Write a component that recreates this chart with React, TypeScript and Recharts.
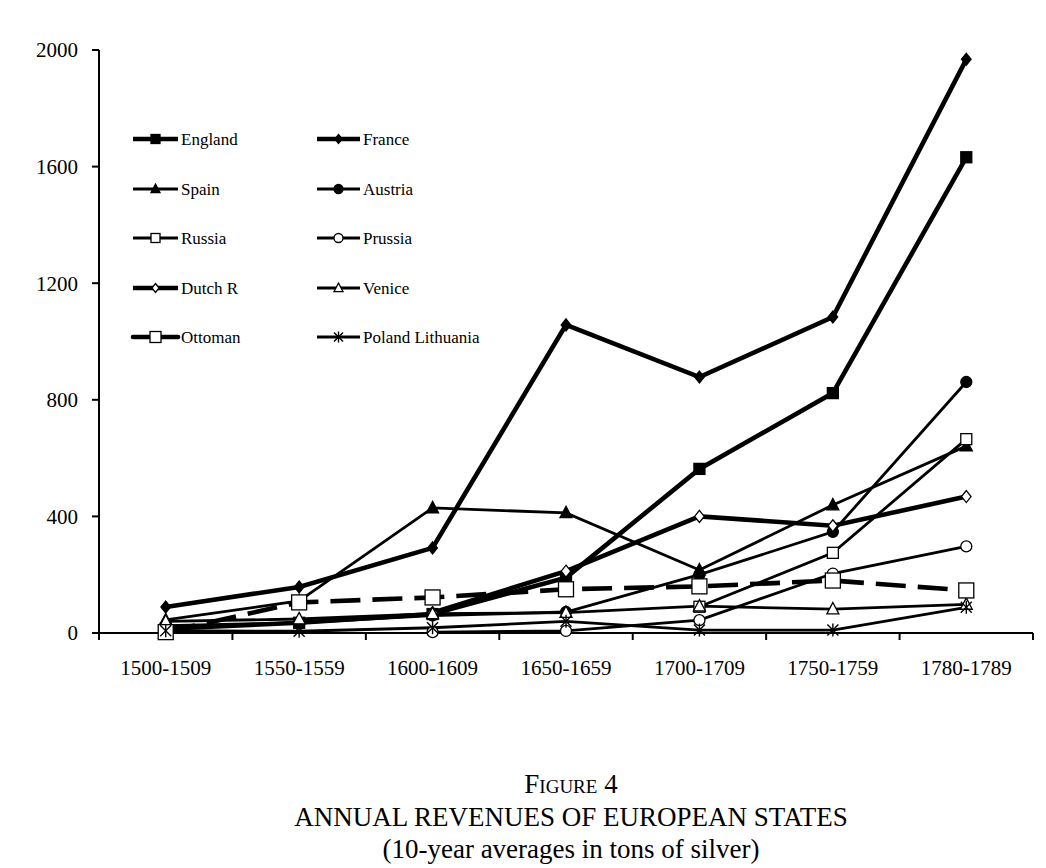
import { Legend, Line, LineChart, XAxis, YAxis } from 'recharts';

type Shape = 'square' | 'diamond' | 'triangle' | 'circle' | 'star';

const CATEGORIES = ['1500-1509', '1550-1559', '1600-1609', '1650-1659', '1700-1709', '1750-1759', '1780-1789'];
const Y_TICKS = [0, 400, 800, 1200, 1600, 2000];

const ENGLAND = [15, 35, 65, 190, 563, 823, 1632];
const FRANCE = [89, 158, 292, 1057, 878, 1084, 1968];
const SPAIN = [45, 110, 429, 412, 216, 439, 641];
const AUSTRIA = [25, 35, 60, 72, 200, 347, 861];
const RUSSIA = [null, null, null, null, 90, 275, 665];
const PRUSSIA = [null, null, 3, 7, 44, 204, 297];
const DUTCH_R = [null, null, 70, 212, 400, 368, 468];
const VENICE = [40, 48, 66, 70, 92, 82, 98];
const OTTOMAN = [3, 105, 122, 150, 160, 180, 146];
const POLAND = [8, 6, 18, 40, 10, 10, 88];

const FONT = '"Liberation Serif", "Times New Roman", serif';
const WIDTH = 1046;
const HEIGHT = 720;
const PLOT_LEFT = 99;
const PLOT_RIGHT = 1033;
const BAND = (PLOT_RIGHT - PLOT_LEFT) / CATEGORIES.length;
const THICK = 4.6;
const THIN = 2.8;

type Series = {
  key: string;
  name: string;
  values: (number | null)[];
  shape: Shape;
  filled: boolean;
  width: number;
  size: number;
  dash?: string;
};

const SERIES: Series[] = [
  { key: 'england', name: 'England', values: ENGLAND, shape: 'square', filled: true, width: THICK, size: 11 },
  { key: 'france', name: 'France', values: FRANCE, shape: 'diamond', filled: true, width: THICK, size: 12 },
  { key: 'spain', name: 'Spain', values: SPAIN, shape: 'triangle', filled: true, width: THIN, size: 12 },
  { key: 'austria', name: 'Austria', values: AUSTRIA, shape: 'circle', filled: true, width: THIN, size: 11 },
  { key: 'russia', name: 'Russia', values: RUSSIA, shape: 'square', filled: false, width: THIN, size: 11 },
  { key: 'prussia', name: 'Prussia', values: PRUSSIA, shape: 'circle', filled: false, width: THIN, size: 11 },
  { key: 'dutch', name: 'Dutch R', values: DUTCH_R, shape: 'diamond', filled: false, width: THICK, size: 12 },
  { key: 'venice', name: 'Venice', values: VENICE, shape: 'triangle', filled: false, width: THIN, size: 12 },
  { key: 'ottoman', name: 'Ottoman', values: OTTOMAN, shape: 'square', filled: false, width: THICK, size: 15, dash: '30 12' },
  { key: 'poland', name: 'Poland Lithuania', values: POLAND, shape: 'star', filled: false, width: THIN, size: 11 },
];

const data = CATEGORIES.map((label, i) => {
  const row: Record<string, string | number | null> = { label };
  SERIES.forEach((s) => {
    row[s.key] = s.values[i];
  });
  return row;
});

function Marker({ shape, filled, size, cx, cy }: { shape: Shape; filled: boolean; size: number; cx: number; cy: number }) {
  const h = size / 2;
  const fill = filled ? '#000' : '#fff';
  const common = { fill, stroke: '#000', strokeWidth: 1.3 };
  if (shape === 'square') return <rect x={cx - h} y={cy - h} width={size} height={size} {...common} />;
  if (shape === 'diamond')
    return <polygon points={`${cx},${cy - h} ${cx + h * 0.8},${cy} ${cx},${cy + h} ${cx - h * 0.8},${cy}`} {...common} />;
  if (shape === 'triangle')
    return <polygon points={`${cx},${cy - h * 1.1} ${cx + h},${cy + h * 0.8} ${cx - h},${cy + h * 0.8}`} {...common} />;
  if (shape === 'circle') return <circle cx={cx} cy={cy} r={h} {...common} />;
  return (
    <g stroke="#000" strokeWidth={1.4}>
      <line x1={cx - h} y1={cy - h} x2={cx + h} y2={cy + h} />
      <line x1={cx - h} y1={cy + h} x2={cx + h} y2={cy - h} />
      <line x1={cx} y1={cy - h - 1} x2={cx} y2={cy + h + 1} />
    </g>
  );
}

function makeDot(s: Series) {
  return (props: any) => {
    const { cx, cy, index } = props;
    if (cx == null || cy == null || props.value == null) return <g key={`${s.key}-${index}`} />;
    return (
      <g key={`${s.key}-${index}`}>
        <Marker shape={s.shape} filled={s.filled} size={s.size} cx={cx} cy={cy} />
      </g>
    );
  };
}

function XTick(props: any) {
  const { x, y, payload, index } = props;
  const half = BAND / 2;
  return (
    <g>
      <line x1={x - half} y1={y} x2={x - half} y2={y + 7} stroke="#000" strokeWidth={2} />
      {index === CATEGORIES.length - 1 && (
        <line x1={x + half} y1={y} x2={x + half} y2={y + 7} stroke="#000" strokeWidth={2} />
      )}
      <text x={x} y={y + 42} textAnchor="middle" fontSize={21} fontFamily={FONT} fill="#000">
        {payload.value}
      </text>
    </g>
  );
}

const LEGEND_ROWS = [139, 189, 238, 288, 337];
const LEGEND_COLS = [
  { lineFrom: 133, lineTo: 178, text: 181 },
  { lineFrom: 317, lineTo: 360, text: 363 },
];

function LegendContent() {
  return (
    <svg width={WIDTH} height={400} style={{ display: 'block' }}>
      {SERIES.map((s, i) => {
        const col = LEGEND_COLS[i % 2];
        const y = LEGEND_ROWS[Math.floor(i / 2)];
        const mid = (col.lineFrom + col.lineTo) / 2;
        return (
          <g key={s.key}>
            <line
              x1={col.lineFrom}
              y1={y}
              x2={col.lineTo}
              y2={y}
              stroke="#000"
              strokeWidth={s.width}
              strokeLinecap={s.key === 'ottoman' ? 'round' : 'butt'}
            />
            <Marker shape={s.shape} filled={s.filled} size={s.key === 'ottoman' ? 11 : 9} cx={mid} cy={y} />
            <text x={col.text} y={y + 6} fontSize={17} fontFamily={FONT} fill="#000">
              {s.name}
            </text>
          </g>
        );
      })}
    </svg>
  );
}

export default function App() {
  return (
    <div style={{ position: 'absolute', left: 0, top: 0, width: WIDTH, height: 868, background: '#fff', fontFamily: FONT }}>
      <LineChart
        width={WIDTH}
        height={HEIGHT}
        data={data}
        margin={{ top: 50, right: WIDTH - PLOT_RIGHT, left: 0, bottom: 47 }}
      >
        <XAxis
          dataKey="label"
          height={40}
          padding={{ left: BAND / 2, right: BAND / 2 }}
          axisLine={{ stroke: '#000', strokeWidth: 2 }}
          tickLine={false}
          tickSize={0}
          tickMargin={0}
          interval={0}
          tick={<XTick />}
        />
        <YAxis
          width={PLOT_LEFT}
          domain={[0, 2000]}
          ticks={Y_TICKS}
          interval={0}
          axisLine={{ stroke: '#000', strokeWidth: 2 }}
          tickLine={{ stroke: '#000', strokeWidth: 2 }}
          tickSize={7}
          tickMargin={14}
          tick={{ fontSize: 21, fontFamily: FONT, fill: '#000' }}
        />
        <Legend
          layout="horizontal"
          verticalAlign="middle"
          align="center"
          content={<LegendContent />}
          wrapperStyle={{ position: 'absolute', left: 0, top: 0, width: WIDTH, height: 400, pointerEvents: 'none' }}
        />
        {SERIES.map((s) => (
          <Line
            key={s.key}
            dataKey={s.key}
            name={s.name}
            type="linear"
            stroke="#000"
            strokeWidth={s.width}
            strokeDasharray={s.dash}
            dot={makeDot(s)}
            activeDot={false}
            connectNulls={false}
            isAnimationActive={false}
          />
        ))}
      </LineChart>
      <div
        style={{
          position: 'absolute',
          left: 0,
          width: 1142,
          textAlign: 'center',
          top: 768,
          fontSize: 27,
          lineHeight: '32.5px',
          color: '#000',
          whiteSpace: 'nowrap',
        }}
      >
        <div>
          <span style={{ fontVariant: 'small-caps' }}>Figure 4</span>
        </div>
        <div>ANNUAL REVENUES OF EUROPEAN STATES</div>
        <div>(10-year averages in tons of silver)</div>
      </div>
    </div>
  );
}
